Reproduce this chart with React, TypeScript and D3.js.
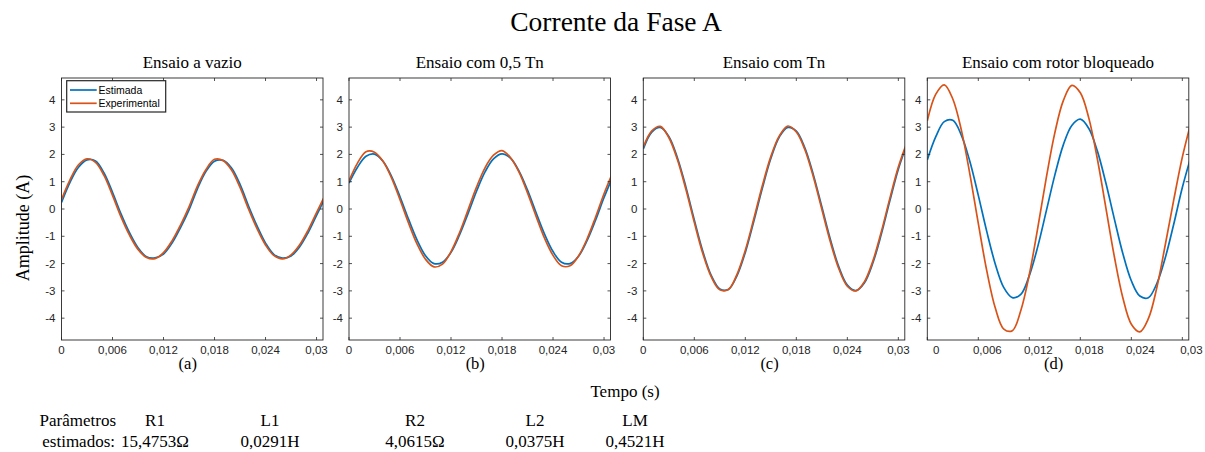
import React from "react";
import * as d3 from "d3";

// tempo (s), amostras a cada 1 ms
const tempo = [0, 0.001, 0.002, 0.003, 0.004, 0.005, 0.006, 0.007, 0.008, 0.009, 0.01, 0.011, 0.012, 0.013, 0.014, 0.015,
  0.016, 0.017, 0.018, 0.019, 0.02, 0.021, 0.022, 0.023, 0.024, 0.025, 0.026, 0.027, 0.028, 0.029, 0.03, 0.031];

const vazioEstimada = [0.24, 0.98, 1.53, 1.80, 1.76, 1.32, 0.61, -0.18, -0.87, -1.42, -1.75, -1.79, -1.65, -1.25, -0.68, -0.03,
  0.75, 1.38, 1.75, 1.78, 1.50, 0.90, 0.11, -0.62, -1.25, -1.67, -1.80, -1.72, -1.39, -0.87, -0.23, 0.40];
const vazioExperimental = [0.35, 1.07, 1.62, 1.84, 1.71, 1.23, 0.50, -0.29, -0.96, -1.48, -1.78, -1.82, -1.60, -1.17, -0.59, 0.08,
  0.85, 1.45, 1.82, 1.78, 1.43, 0.79, 0.00, -0.72, -1.32, -1.71, -1.83, -1.68, -1.32, -0.78, -0.13, 0.50];

const meioTnEstimada = [0.95, 1.53, 1.93, 2.01, 1.75, 1.20, 0.45, -0.37, -1.13, -1.71, -2.00, -1.95, -1.59, -0.95, -0.17, 0.65,
  1.36, 1.84, 2.02, 1.86, 1.39, 0.69, -0.13, -0.92, -1.56, -1.95, -2.00, -1.73, -1.16, -0.41, 0.42, 1.17];
const meioTnExperimental = [1.03, 1.68, 2.10, 2.08, 1.75, 1.14, 0.34, -0.51, -1.28, -1.84, -2.12, -2.02, -1.56, -0.87, -0.04, 0.80,
  1.51, 1.97, 2.14, 1.88, 1.35, 0.59, -0.26, -1.07, -1.70, -2.08, -2.08, -1.72, -1.10, -0.30, 0.56, 1.32];

const tnEstimada = [2.20, 2.82, 2.99, 2.66, 1.89, 0.82, -0.40, -1.55, -2.44, -2.93, -2.95, -2.46, -1.59, -0.45, 0.76, 1.85,
  2.64, 2.99, 2.85, 2.24, 1.26, 0.08, -1.11, -2.12, -2.79, -2.99, -2.71, -1.98, -0.92, 0.30, 1.46, 2.37];
const tnExperimental = [2.27, 2.86, 3.03, 2.62, 1.82, 0.73, -0.49, -1.63, -2.49, -2.96, -2.95, -2.41, -1.51, -0.36, 0.85, 1.92,
  2.68, 3.04, 2.82, 2.18, 1.18, -0.01, -1.20, -2.19, -2.83, -3.00, -2.67, -1.91, -0.83, 0.39, 1.54, 2.43];

const bloqueadoEstimada = [1.80, 2.65, 3.20, 3.25, 2.71, 1.75, 0.50, -0.83, -2.02, -2.88, -3.25, -3.13, -2.44, -1.37, -0.07, 1.24,
  2.35, 3.06, 3.29, 2.95, 2.13, 0.96, -0.36, -1.63, -2.63, -3.19, -3.25, -2.73, -1.78, -0.54, 0.79, 1.90];
const bloqueadoExperimental = [3.23, 4.21, 4.55, 4.03, 2.90, 1.29, -0.53, -2.27, -3.63, -4.40, -4.46, -3.72, -2.40, -0.68, 1.15, 2.79,
  3.97, 4.53, 4.26, 3.33, 1.84, 0.05, -1.74, -3.25, -4.22, -4.50, -4.02, -2.88, -1.30, 0.35, 1.90, 3.15];

const xTicks = [0, 0.006, 0.012, 0.018, 0.024, 0.03];
const xTickLabels = ["0", "0,006", "0,012", "0,018", "0,024", "0,03"];
const yTicks = [-4, -3, -2, -1, 0, 1, 2, 3, 4];

const titulos = ["Ensaio a vazio", "Ensaio com 0,5 Tn", "Ensaio com Tn", "Ensaio com rotor bloqueado"];
const letras = ["(a)", "(b)", "(c)", "(d)"];
const estimadas = [vazioEstimada, meioTnEstimada, tnEstimada, bloqueadoEstimada];
const experimentais = [vazioExperimental, meioTnExperimental, tnExperimental, bloqueadoExperimental];

const parametrosNomes = ["R1", "L1", "R2", "L2", "LM"];
const parametrosValores = ["15,4753Ω", "0,0291H", "4,0615Ω", "0,0375H", "0,4521H"];

// layout
const lefts = [61.5, 349, 643.3, 927.3];
const labelShift = [0, 0, 0, 9];
const paramX = [155, 270, 415, 535, 635];
const W = 261.5, TOP = 78, BOTTOM = 340;
const AXC = "#262626";
const BLUE = "#0072BD", ORANGE = "#D95319";

function Panel({ i }: { i: number }) {
  const left = lefts[i];
  const x = d3.scaleLinear().domain([0, 0.03076]).range([left, left + W]);
  const y = d3.scaleLinear().domain([-4.8, 4.8]).range([BOTTOM, TOP]);
  const line = d3.line<number>()
    .x((_, k) => x(tempo[k]))
    .y((d) => y(d))
    .curve(d3.curveCatmullRom);
  const clipId = "clip" + i;
  const tk = 3;
  return (
    <g>
      <clipPath id={clipId}>
        <rect x={left} y={TOP} width={W} height={BOTTOM - TOP} />
      </clipPath>
      <text x={left + W / 2} y={68} textAnchor="middle" fontSize={17}>{titulos[i]}</text>
      <g clipPath={`url(#${clipId})`}>
        <path d={line(estimadas[i]) || ""} fill="none" stroke={BLUE} strokeWidth={1.7} />
        <path d={line(experimentais[i]) || ""} fill="none" stroke={ORANGE} strokeWidth={1.7} />
      </g>
      <rect x={left} y={TOP} width={W} height={BOTTOM - TOP} fill="none" stroke={AXC} strokeWidth={0.9} />
      {xTicks.map((t, k) => (
        <g key={"x" + k}>
          <line x1={x(t)} x2={x(t)} y1={BOTTOM} y2={BOTTOM - tk} stroke={AXC} strokeWidth={0.8} />
          <line x1={x(t)} x2={x(t)} y1={TOP} y2={TOP + tk} stroke={AXC} strokeWidth={0.8} />
          <text x={x(t) + labelShift[i]} y={BOTTOM + 13.5} textAnchor="middle" fontFamily="Liberation Sans" fontSize={11.5} fill={AXC}>
            {xTickLabels[k]}
          </text>
        </g>
      ))}
      {yTicks.map((v) => (
        <g key={"y" + v}>
          <line x1={left} x2={left + tk} y1={y(v)} y2={y(v)} stroke={AXC} strokeWidth={0.8} />
          <line x1={left + W} x2={left + W - tk} y1={y(v)} y2={y(v)} stroke={AXC} strokeWidth={0.8} />
          <text x={left - 6} y={y(v) + 4} textAnchor="end" fontFamily="Liberation Sans" fontSize={11.5} fill={AXC}>
            {v}
          </text>
        </g>
      ))}
      <text x={left + W / 2 - 4.5} y={368.5} textAnchor="middle" fontSize={16.5}>{letras[i]}</text>
    </g>
  );
}

export default function App() {
  return (
    <svg width={1205} height={452} style={{ position: "absolute", left: 0, top: 0, background: "#fff" }}
      fontFamily="Liberation Serif">
      <text x={616} y={31} textAnchor="middle" fontSize={27.5}>Corrente da Fase A</text>
      {[0, 1, 2, 3].map((i) => <Panel key={i} i={i} />)}
      <text transform="translate(28.5,228) rotate(-90)" textAnchor="middle" fontSize={18}>Amplitude (A)</text>
      <text x={625} y={397} textAnchor="middle" fontSize={17}>Tempo (s)</text>

      {/* legenda */}
      <g>
        <rect x={66.7} y={80.7} width={99} height={31.3} fill="#fff" stroke={AXC} strokeWidth={1.2} />
        <line x1={70} x2={96.7} y1={90} y2={90} stroke={BLUE} strokeWidth={1.7} />
        <text x={98.5} y={93.7} fontFamily="Liberation Sans" fontSize={10.5} fill="#000">Estimada</text>
        <line x1={70} x2={96.7} y1={103.3} y2={103.3} stroke={ORANGE} strokeWidth={1.7} />
        <text x={98.5} y={107} fontFamily="Liberation Sans" fontSize={10.5} fill="#000">Experimental</text>
      </g>

      {/* parâmetros */}
      <text x={116} y={426} textAnchor="end" fontSize={17}>Parâmetros</text>
      <text x={115} y={447} textAnchor="end" fontSize={17}>estimados:</text>
      {parametrosNomes.map((n, k) => (
        <g key={n}>
          <text x={paramX[k]} y={426} textAnchor="middle" fontSize={17}>{n}</text>
          <text x={paramX[k]} y={447} textAnchor="middle" fontSize={17}>{parametrosValores[k]}</text>
        </g>
      ))}
    </svg>
  );
}
